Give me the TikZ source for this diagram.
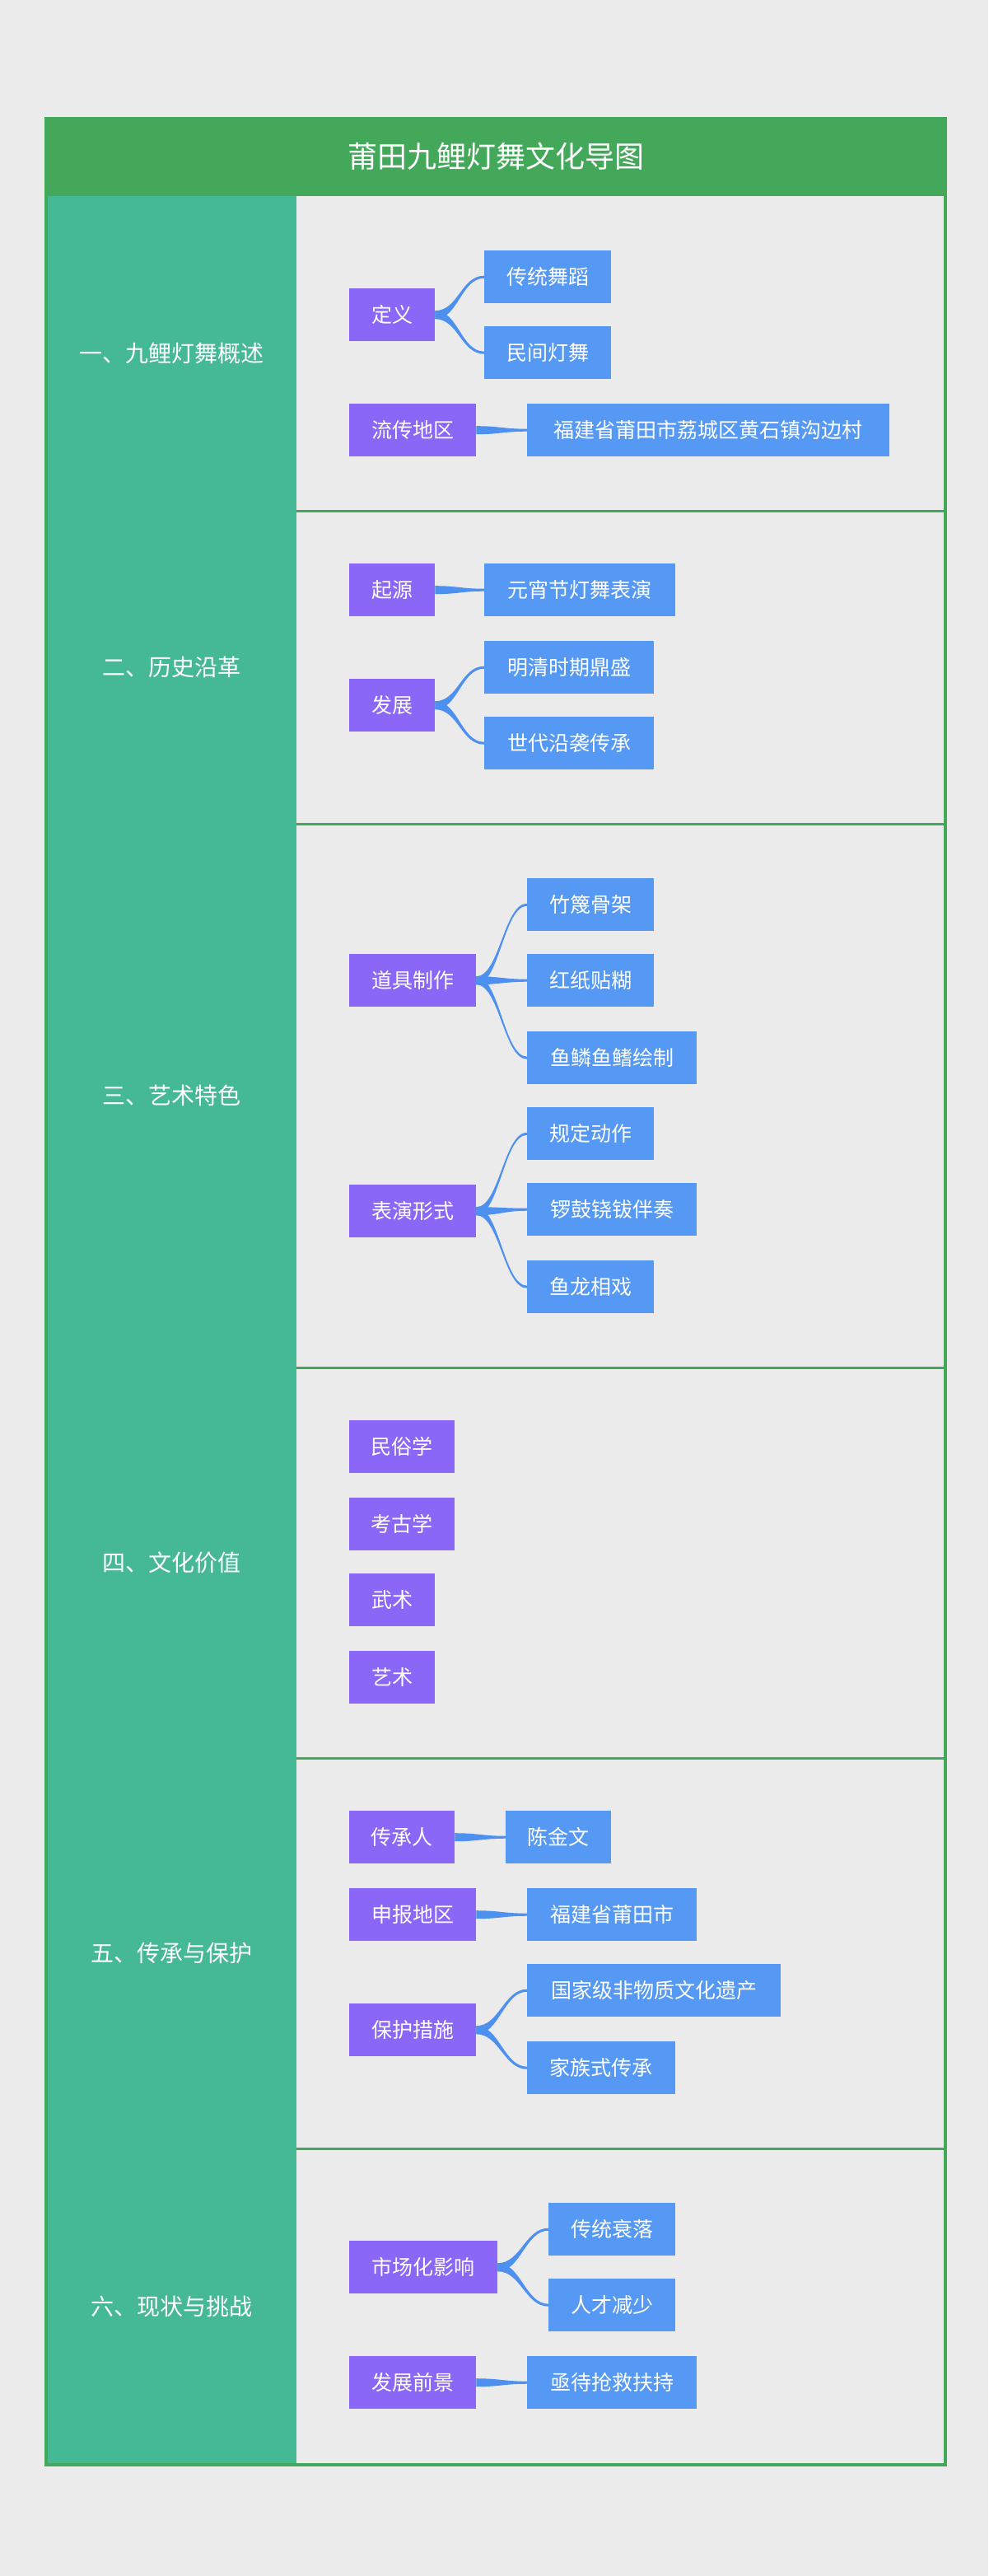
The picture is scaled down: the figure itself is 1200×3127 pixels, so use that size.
\documentclass[tikz,border=0pt]{standalone}
\usepackage{fontspec}
\setmainfont{Noto Sans CJK SC}
\usetikzlibrary{calc}
\definecolor{bg}{HTML}{EBEBEB}
\definecolor{frm}{HTML}{43A85A}
\definecolor{teal}{HTML}{45B894}
\definecolor{pur}{HTML}{8B67F7}
\definecolor{blu}{HTML}{5599F5}
\definecolor{cn}{HTML}{4D90F0}
\tikzset{
  box/.style={anchor=north west,inner sep=0pt,text=white,font=\fontsize{25}{30}\selectfont},
  p/.style={box,fill=pur},
  b/.style={box,fill=blu},
  side/.style={text=white,font=\fontsize{28}{34}\selectfont},
}
\newcommand{\bx}[7]{\node[#2,minimum width=#5pt-#3pt,minimum height=#6pt-#4pt] (#1) at (#3,#4) {#7};}
\newcommand{\conn}[2]{\fill[cn] ($(#1.east)+(0,-5)$) .. controls ($(#1.east)+(28,-5)$) and ($(#2.west)+(-28,-1.5)$) .. ($(#2.west)+(0,-1.5)$) -- ($(#2.west)+(0,1.5)$) .. controls ($(#2.west)+(-28,1.5)$) and ($(#1.east)+(28,5)$) .. ($(#1.east)+(0,5)$) -- cycle;}
\begin{document}
\begin{tikzpicture}[x=1pt,y=-1pt]
\fill[bg] (0,0) rectangle (1200,3127);
\useasboundingbox (0,0) rectangle (1200,3127);
\fill[teal] (56,238) rectangle (360,2992);
\fill[frm] (56,144) rectangle (1148,238);
\node[text=white,font=\fontsize{36}{42}\selectfont] (title) at (602,190) {莆田九鲤灯舞文化导图};
\foreach \y in {620,1000,1660,2134,2608} \draw[frm,line width=3pt] (360,\y) -- (1148,\y);
\draw[frm,line width=4pt] (56,144) rectangle (1148,2992);
\node[side] (s1) at (208,429) {一、九鲤灯舞概述};
\node[side] (s2) at (208,810) {二、历史沿革};
\node[side] (s3) at (208,1330) {三、艺术特色};
\node[side] (s4) at (208,1897) {四、文化价值};
\node[side] (s5) at (208,2371) {五、传承与保护};
\node[side] (s6) at (208,2800) {六、现状与挑战};
% row1
\bx{a}{p}{424}{350}{528}{414}{定义}
\bx{a1}{b}{588}{304}{742}{368}{传统舞蹈}
\bx{a2}{b}{588}{396}{742}{460}{民间灯舞}
\bx{c}{p}{424}{490}{578}{554}{流传地区}
\bx{c1}{b}{640}{490}{1080}{554}{福建省莆田市荔城区黄石镇沟边村}
\conn{a}{a1}\conn{a}{a2}\conn{c}{c1}
% row2
\bx{d}{p}{424}{684}{528}{748}{起源}
\bx{d1}{b}{588}{684}{820}{748}{元宵节灯舞表演}
\bx{e}{p}{424}{824}{528}{888}{发展}
\bx{e1}{b}{588}{778}{794}{842}{明清时期鼎盛}
\bx{e2}{b}{588}{870}{794}{934}{世代沿袭传承}
\conn{d}{d1}\conn{e}{e1}\conn{e}{e2}
% row3
\bx{f}{p}{424}{1158}{578}{1222}{道具制作}
\bx{f1}{b}{640}{1066}{794}{1130}{竹篾骨架}
\bx{f2}{b}{640}{1158}{794}{1222}{红纸贴糊}
\bx{f3}{b}{640}{1252}{846}{1316}{鱼鳞鱼鳍绘制}
\bx{g}{p}{424}{1438}{578}{1502}{表演形式}
\bx{g1}{b}{640}{1344}{794}{1408}{规定动作}
\bx{g2}{b}{640}{1436}{846}{1500}{锣鼓铙钹伴奏}
\bx{g3}{b}{640}{1530}{794}{1594}{鱼龙相戏}
\conn{f}{f1}\conn{f}{f2}\conn{f}{f3}\conn{g}{g1}\conn{g}{g2}\conn{g}{g3}
% row4
\bx{h1}{p}{424}{1724}{552}{1788}{民俗学}
\bx{h2}{p}{424}{1818}{552}{1882}{考古学}
\bx{h3}{p}{424}{1910}{528}{1974}{武术}
\bx{h4}{p}{424}{2004}{528}{2068}{艺术}
% row5
\bx{i}{p}{424}{2198}{552}{2262}{传承人}
\bx{i1}{b}{614}{2198}{742}{2262}{陈金文}
\bx{j}{p}{424}{2292}{578}{2356}{申报地区}
\bx{j1}{b}{640}{2292}{846}{2356}{福建省莆田市}
\bx{k}{p}{424}{2432}{578}{2496}{保护措施}
\bx{k1}{b}{640}{2384}{948}{2448}{国家级非物质文化遗产}
\bx{k2}{b}{640}{2478}{820}{2542}{家族式传承}
\conn{i}{i1}\conn{j}{j1}\conn{k}{k1}\conn{k}{k2}
% row6
\bx{l}{p}{424}{2720}{604}{2784}{市场化影响}
\bx{l1}{b}{666}{2674}{820}{2738}{传统衰落}
\bx{l2}{b}{666}{2766}{820}{2830}{人才减少}
\bx{m}{p}{424}{2860}{578}{2924}{发展前景}
\bx{m1}{b}{640}{2860}{846}{2924}{亟待抢救扶持}
\conn{l}{l1}\conn{l}{l2}\conn{m}{m1}
\end{tikzpicture}
\end{document}
